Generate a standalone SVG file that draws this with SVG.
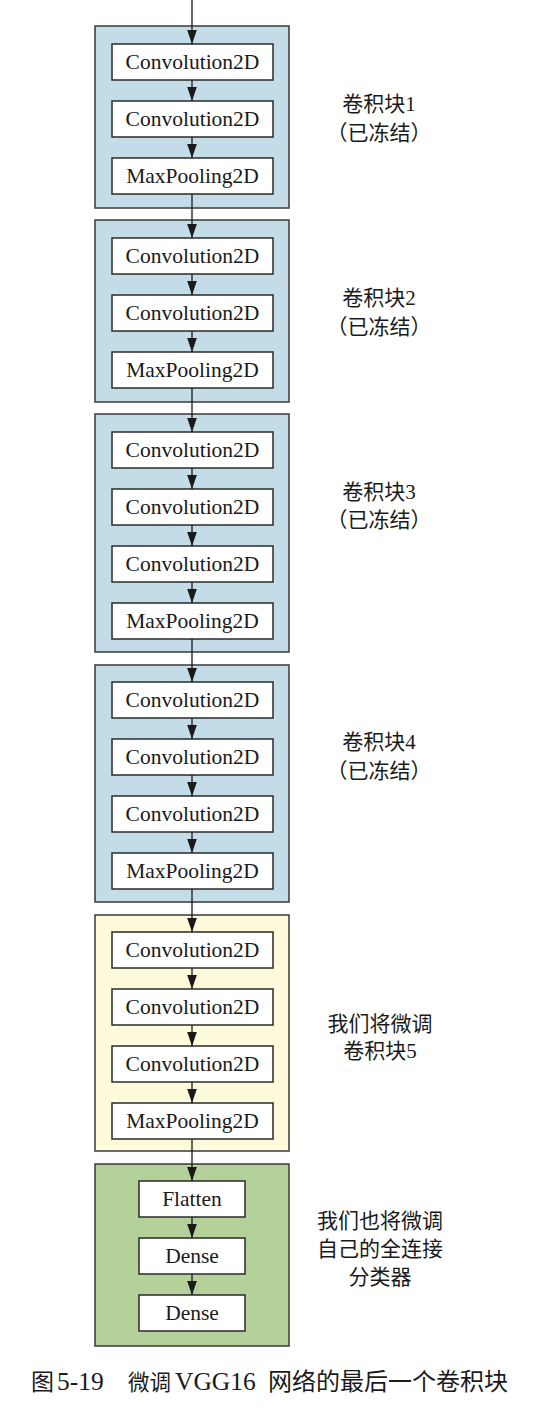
<svg xmlns="http://www.w3.org/2000/svg" width="548" height="1412" viewBox="0 0 548 1412">
<defs>
<style>
.blk{stroke:#3a3a3a;stroke-width:1.5}
.blue{fill:#c3dce7}
.yel{fill:#fefbdc}
.grn{fill:#b3d199}
.box{fill:#ffffff;stroke:#2a2a2a;stroke-width:1.5}
.t{font-family:"Liberation Serif","Noto Sans CJK SC",serif;font-size:21.5px;fill:#1a1a1a;text-anchor:middle}
.lbl{font-family:"Liberation Serif","Noto Sans CJK SC",serif;font-size:21px;fill:#1a1a1a;text-anchor:middle}
.cap{font-family:"Liberation Serif","Noto Sans CJK SC",serif;font-size:23px;fill:#1a1a1a}
.lat{font-size:25.5px}
.c{stroke:#1a1a1a;stroke-width:1.3;fill:none;marker-end:url(#ah)}
</style>
<marker id="ah" markerUnits="userSpaceOnUse" markerWidth="14" markerHeight="10" refX="13" refY="4.5" orient="auto" viewBox="0 0 13 9">
<path d="M0,0 L13,4.5 L0,9 Z" fill="#1a1a1a"/>
</marker>
</defs>

<g id="block1">
<rect class="blk blue" x="95" y="26" width="194" height="182"/>
<rect class="box" x="112" y="44" width="161" height="36"/><text class="t" x="192.5" y="69">Convolution2D</text>
<rect class="box" x="112" y="101" width="161" height="36"/><text class="t" x="192.5" y="126">Convolution2D</text>
<rect class="box" x="112" y="158" width="161" height="36"/><text class="t" x="192.5" y="183">MaxPooling2D</text>
<text class="lbl" x="379" y="111">卷积块1</text>
<text class="lbl" x="379" y="140">（已冻结）</text>
</g>

<g id="block2">
<rect class="blk blue" x="95" y="220" width="194" height="182"/>
<rect class="box" x="112" y="238" width="161" height="36"/><text class="t" x="192.5" y="263">Convolution2D</text>
<rect class="box" x="112" y="295" width="161" height="36"/><text class="t" x="192.5" y="320">Convolution2D</text>
<rect class="box" x="112" y="352" width="161" height="36"/><text class="t" x="192.5" y="377">MaxPooling2D</text>
<text class="lbl" x="379" y="305">卷积块2</text>
<text class="lbl" x="379" y="334">（已冻结）</text>
</g>

<g id="block3">
<rect class="blk blue" x="95" y="414" width="194" height="238"/>
<rect class="box" x="112" y="432" width="161" height="36"/><text class="t" x="192.5" y="457">Convolution2D</text>
<rect class="box" x="112" y="489" width="161" height="36"/><text class="t" x="192.5" y="514">Convolution2D</text>
<rect class="box" x="112" y="546" width="161" height="36"/><text class="t" x="192.5" y="571">Convolution2D</text>
<rect class="box" x="112" y="603" width="161" height="36"/><text class="t" x="192.5" y="628">MaxPooling2D</text>
<text class="lbl" x="379" y="499">卷积块3</text>
<text class="lbl" x="379" y="527">（已冻结）</text>
</g>

<g id="block4">
<rect class="blk blue" x="95" y="665" width="194" height="237"/>
<rect class="box" x="112" y="682" width="161" height="36"/><text class="t" x="192.5" y="707">Convolution2D</text>
<rect class="box" x="112" y="739" width="161" height="36"/><text class="t" x="192.5" y="764">Convolution2D</text>
<rect class="box" x="112" y="796" width="161" height="36"/><text class="t" x="192.5" y="821">Convolution2D</text>
<rect class="box" x="112" y="853" width="161" height="36"/><text class="t" x="192.5" y="878">MaxPooling2D</text>
<text class="lbl" x="379" y="749">卷积块4</text>
<text class="lbl" x="379" y="778">（已冻结）</text>
</g>

<g id="block5">
<rect class="blk yel" x="95" y="915" width="194" height="236"/>
<rect class="box" x="112" y="932" width="161" height="36"/><text class="t" x="192.5" y="957">Convolution2D</text>
<rect class="box" x="112" y="989" width="161" height="36"/><text class="t" x="192.5" y="1014">Convolution2D</text>
<rect class="box" x="112" y="1046" width="161" height="36"/><text class="t" x="192.5" y="1071">Convolution2D</text>
<rect class="box" x="112" y="1103" width="161" height="36"/><text class="t" x="192.5" y="1128">MaxPooling2D</text>
<text class="lbl" x="380" y="1031">我们将微调</text>
<text class="lbl" x="380" y="1058">卷积块5</text>
</g>

<g id="block6">
<rect class="blk grn" x="95" y="1164" width="194" height="182"/>
<rect class="box" x="139" y="1181" width="106" height="36"/><text class="t" x="192" y="1206">Flatten</text>
<rect class="box" x="139" y="1238" width="106" height="36"/><text class="t" x="192" y="1263">Dense</text>
<rect class="box" x="139" y="1295" width="106" height="36"/><text class="t" x="192" y="1320">Dense</text>
<text class="lbl" x="380" y="1228">我们也将微调</text>
<text class="lbl" x="380" y="1256">自己的全连接</text>
<text class="lbl" x="380" y="1284">分类器</text>
</g>

<g id="connectors">
<line class="c" x1="192" y1="0" x2="192" y2="44"/>
<line class="c" x1="192" y1="80" x2="192" y2="101"/>
<line class="c" x1="192" y1="137" x2="192" y2="158"/>
<line class="c" x1="192" y1="194" x2="192" y2="238"/>
<line class="c" x1="192" y1="274" x2="192" y2="295"/>
<line class="c" x1="192" y1="331" x2="192" y2="352"/>
<line class="c" x1="192" y1="388" x2="192" y2="432"/>
<line class="c" x1="192" y1="468" x2="192" y2="489"/>
<line class="c" x1="192" y1="525" x2="192" y2="546"/>
<line class="c" x1="192" y1="582" x2="192" y2="603"/>
<line class="c" x1="192" y1="639" x2="192" y2="682"/>
<line class="c" x1="192" y1="718" x2="192" y2="739"/>
<line class="c" x1="192" y1="775" x2="192" y2="796"/>
<line class="c" x1="192" y1="832" x2="192" y2="853"/>
<line class="c" x1="192" y1="889" x2="192" y2="932"/>
<line class="c" x1="192" y1="968" x2="192" y2="989"/>
<line class="c" x1="192" y1="1025" x2="192" y2="1046"/>
<line class="c" x1="192" y1="1082" x2="192" y2="1103"/>
<line class="c" x1="192" y1="1139" x2="192" y2="1181"/>
<line class="c" x1="192" y1="1217" x2="192" y2="1238"/>
<line class="c" x1="192" y1="1274" x2="192" y2="1295"/>
</g>

<g id="caption">
<text class="cap" y="1390"><tspan x="31">图</tspan><tspan x="57" class="lat">5-19</tspan><tspan x="128" style="font-size:21.5px">微调</tspan><tspan x="175" class="lat">VGG16</tspan><tspan x="268" style="font-size:24px">网络的最后一个卷积块</tspan></text>
</g>
</svg>
